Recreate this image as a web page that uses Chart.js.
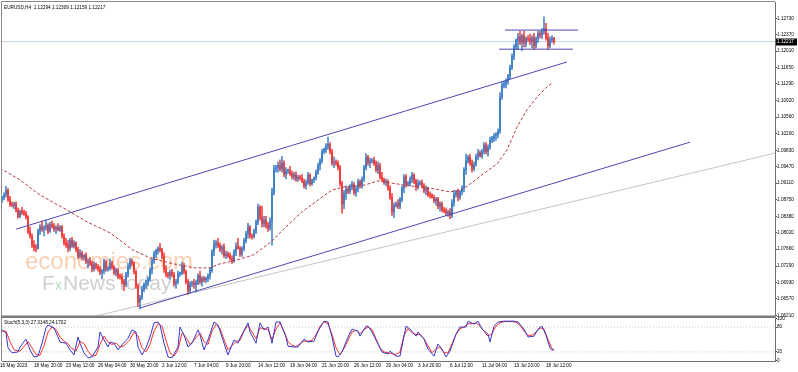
<!DOCTYPE html>
<html><head><meta charset="utf-8">
<script src="https://cdn.jsdelivr.net/npm/chart.js@4.4.0/dist/chart.umd.min.js"></script>
<style>
html,body{margin:0;padding:0;background:#fff;}
#wrap{position:relative;width:798px;height:372px;overflow:hidden;background:#fff;}
#c1{position:absolute;left:0;top:0;}
#c2{position:absolute;left:0;top:308px;}
</style></head><body>
<div id="wrap"><canvas id="c1" width="798" height="318"></canvas><canvas id="c2" width="798" height="64"></canvas></div>
<script>
// ---------- DATA ----------
const title = 'EURUSD,H4  1.12294 1.12309 1.12159 1.12217';
const stochTitle = 'Stoch(5,3,3) 27.3148 24.1702';
const xLabels = ['16 May 2023','18 May 20:00','23 May 12:00','26 May 04:00','30 May 20:00','2 Jun 12:00','7 Jun 04:00','9 Jun 20:00','14 Jun 12:00','19 Jun 04:00','21 Jun 20:00','26 Jun 12:00','29 Jun 04:00','3 Jul 20:00','6 Jul 12:00','11 Jul 04:00','13 Jul 20:00','18 Jul 12:00'];
const xLabelBars = [0,17,33,49,65,81,97,113,129,145,161,177,193,209,225,241,257,273];
const priceTicks = [1.12730,1.12370,1.12010,1.11650,1.11290,1.10920,1.10560,1.10200,1.09830,1.09470,1.09110,1.08750,1.08380,1.08020,1.07660,1.07290,1.06930,1.06570,1.06210];
const stochTicks = [0,20,80,100];
const lastPrice = 1.12217;

const opens = [
1.0874,1.0879,1.0886,1.0895,1.0876,1.0864, 1.0862,1.0866,1.0851,1.0838,1.0849,1.0846,
1.0843,1.0837,1.0804,1.0795,1.0775,1.0770, 1.0768,1.0806,1.0815,1.0810,1.0812,1.0818,
1.0805,1.0820,1.0816,1.0810,1.0814,1.0808, 1.0815,1.0795,1.0780,1.0776,1.0768,1.0786,
1.0772,1.0780,1.0765,1.0750,1.0758,1.0748, 1.0752,1.0738,1.0740,1.0735,1.0722,1.0732,
1.0726,1.0722,1.0715,1.0718,1.0738,1.0722, 1.0724,1.0735,1.0726,1.0714,1.0720,1.0706,
1.0705,1.0696,1.0688,1.0710,1.0728,1.0740, 1.0735,1.0716,1.0685,1.0650,1.0660,1.0678,
1.0689,1.0693,1.0700,1.0720,1.0740,1.0755, 1.0762,1.0768,1.0764,1.0750,1.0722,1.0712,
1.0708,1.0716,1.0710,1.0690,1.0695,1.0712, 1.0713,1.0730,1.0716,1.0695,1.0675,1.0690,
1.0692,1.0688,1.0692,1.0708,1.0695,1.0702, 1.0698,1.0702,1.0708,1.0720,1.0760,1.0776,
1.0780,1.0774,1.0765,1.0770,1.0752,1.0756, 1.0750,1.0745,1.0740,1.0760,1.0772,1.0768,
1.0755,1.0768,1.0785,1.0800,1.0815,1.0795, 1.0793,1.0806,1.0825,1.0858,1.0836,1.0822,
1.0830,1.0818,1.0812,1.0828,1.0890,1.0942, 1.0945,1.0950,1.0942,1.0955,1.0930,1.0938,
1.0940,1.0932,1.0925,1.0930,1.0920,1.0924, 1.0922,1.0915,1.0905,1.0912,1.0928,1.0910,
1.0918,1.0922,1.0935,1.0950,1.0960,1.0980, 1.0985,1.0992,1.0996,1.0980,1.0955,1.0958,
1.0955,1.0945,1.0910,1.0865,1.0888,1.0898, 1.0894,1.0902,1.0908,1.0890,1.0898,1.0915,
1.0905,1.0920,1.0945,1.0968,1.0956,1.0960, 1.0961,1.0955,1.0940,1.0950,1.0925,1.0918,
1.0912,1.0915,1.0900,1.0880,1.0848,1.0862, 1.0866,1.0860,1.0875,1.0900,1.0925,1.0908,
1.0910,1.0920,1.0928,1.0915,1.0902,1.0910, 1.0912,1.0905,1.0895,1.0900,1.0886,1.0884,
1.0880,1.0872,1.0876,1.0860,1.0866,1.0852, 1.0850,1.0845,1.0848,1.0840,1.0868,1.0886,
1.0890,1.0880,1.0892,1.0900,1.0940,1.0960, 1.0968,1.0955,1.0942,1.0952,1.0970,1.0978,
1.0971,1.0980,1.0995,1.0980,1.0990,1.1005, 1.1009,1.1015,1.1018,1.1025,1.1100,1.1125,
1.1129,1.1135,1.1145,1.1165,1.1188,1.1210, 1.1225,1.1232,1.1220,1.1235,1.1218,1.1228,
1.1227,1.1222,1.1230,1.1212,1.1228,1.1240, 1.1236,1.1245,1.1250,1.1230,1.1212,1.1226,
1.12294];
const highs = [
1.0882,1.0890,1.0904,1.0899,1.0882,1.0870, 1.0869,1.0870,1.0856,1.0852,1.0858,1.0852,
1.0849,1.0840,1.0815,1.0800,1.0785,1.0776, 1.0810,1.0820,1.0828,1.0818,1.0830,1.0822,
1.0825,1.0828,1.0822,1.0818,1.0822,1.0818, 1.0818,1.0800,1.0790,1.0785,1.0790,1.0792,
1.0785,1.0782,1.0770,1.0765,1.0762,1.0755, 1.0758,1.0745,1.0748,1.0740,1.0738,1.0736,
1.0732,1.0728,1.0722,1.0745,1.0742,1.0728, 1.0745,1.0740,1.0730,1.0725,1.0724,1.0712,
1.0712,1.0700,1.0715,1.0735,1.0746,1.0744, 1.0738,1.0720,1.0690,1.0665,1.0685,1.0692,
1.0698,1.0705,1.0725,1.0745,1.0762,1.0766, 1.0772,1.0779,1.0768,1.0758,1.0730,1.0715,
1.0720,1.0722,1.0715,1.0700,1.0718,1.0716, 1.0738,1.0735,1.0720,1.0700,1.0695,1.0696,
1.0700,1.0698,1.0712,1.0718,1.0706,1.0706, 1.0705,1.0712,1.0725,1.0765,1.0786,1.0785,
1.0790,1.0780,1.0775,1.0778,1.0762,1.0760, 1.0758,1.0752,1.0765,1.0780,1.0790,1.0772,
1.0772,1.0790,1.0805,1.0823,1.0818,1.0800, 1.0810,1.0830,1.0865,1.0862,1.0860,1.0838,
1.0838,1.0825,1.0835,1.0900,1.0950,1.0950, 1.0958,1.0962,1.0970,1.0960,1.0945,1.0942,
1.0948,1.0938,1.0935,1.0936,1.0928,1.0928, 1.0930,1.0920,1.0918,1.0935,1.0932,1.0920,
1.0925,1.0940,1.0955,1.0965,1.0985,1.0988, 1.0998,1.1012,1.1000,1.0985,1.0968,1.0962,
1.0960,1.0950,1.0915,1.0895,1.0905,1.0902, 1.0908,1.0915,1.0912,1.0905,1.0920,1.0918,
1.0925,1.0950,1.0976,1.0972,1.0966,1.0965, 1.0968,1.0960,1.0958,1.0955,1.0935,1.0922,
1.0920,1.0918,1.0905,1.0888,1.0868,1.0870, 1.0875,1.0880,1.0905,1.0930,1.0930,1.0915,
1.0925,1.0935,1.0932,1.0920,1.0918,1.0916, 1.0918,1.0910,1.0905,1.0902,1.0892,1.0888,
1.0885,1.0880,1.0880,1.0870,1.0870,1.0858, 1.0856,1.0852,1.0855,1.0875,1.0895,1.0895,
1.0898,1.0895,1.0905,1.0945,1.0975,1.0972, 1.0975,1.0962,1.0958,1.0975,1.0985,1.0982,
1.0985,1.1000,1.1000,1.0995,1.1012,1.1014, 1.1020,1.1022,1.1030,1.1110,1.1132,1.1135,
1.1140,1.1150,1.1170,1.1195,1.1215,1.1228, 1.1240,1.1244,1.1238,1.1245,1.1232,1.1235,
1.1238,1.1235,1.1240,1.1232,1.1245,1.1244, 1.1250,1.1276,1.1262,1.1240,1.1232,1.1235,
1.12309];
const lows = [
1.0868,1.0874,1.0880,1.0871,1.0860,1.0859, 1.0855,1.0848,1.0834,1.0835,1.0842,1.0840,
1.0832,1.0800,1.0790,1.0770,1.0762,1.0760, 1.0766,1.0798,1.0805,1.0795,1.0808,1.0800,
1.0803,1.0812,1.0805,1.0800,1.0806,1.0805, 1.0790,1.0775,1.0770,1.0760,1.0762,1.0770,
1.0768,1.0760,1.0745,1.0747,1.0742,1.0742, 1.0735,1.0725,1.0730,1.0716,1.0718,1.0722,
1.0718,1.0710,1.0701,1.0712,1.0718,1.0718, 1.0720,1.0722,1.0710,1.0708,1.0702,1.0700,
1.0690,1.0675,1.0684,1.0705,1.0722,1.0730, 1.0712,1.0680,1.0640,1.0635,1.0655,1.0672,
1.0680,1.0686,1.0696,1.0712,1.0735,1.0748, 1.0755,1.0760,1.0745,1.0715,1.0705,1.0703,
1.0700,1.0705,1.0685,1.0680,1.0690,1.0706, 1.0710,1.0712,1.0690,1.0667,1.0670,1.0684,
1.0680,1.0672,1.0688,1.0690,1.0685,1.0694, 1.0692,1.0695,1.0700,1.0715,1.0752,1.0768,
1.0770,1.0760,1.0755,1.0748,1.0745,1.0748, 1.0742,1.0735,1.0737,1.0752,1.0766,1.0750,
1.0750,1.0762,1.0780,1.0790,1.0790,1.0788, 1.0790,1.0800,1.0820,1.0830,1.0815,1.0815,
1.0812,1.0805,1.0808,1.0775,1.0885,1.0935, 1.0935,1.0938,1.0935,1.0925,1.0920,1.0932,
1.0928,1.0920,1.0918,1.0915,1.0915,1.0918, 1.0912,1.0900,1.0898,1.0908,1.0905,1.0906,
1.0912,1.0918,1.0930,1.0940,1.0955,1.0975, 1.0978,1.0985,1.0975,1.0950,1.0945,1.0950,
1.0940,1.0905,1.0845,1.0855,1.0875,1.0888, 1.0888,1.0896,1.0885,1.0882,1.0892,1.0900,
1.0900,1.0915,1.0940,1.0950,1.0945,1.0955, 1.0950,1.0935,1.0932,1.0920,1.0915,1.0908,
1.0905,1.0895,1.0875,1.0840,1.0835,1.0858, 1.0855,1.0855,1.0870,1.0890,1.0902,1.0905,
1.0905,1.0912,1.0910,1.0895,1.0898,1.0906, 1.0900,1.0890,1.0885,1.0882,1.0878,1.0878,
1.0868,1.0862,1.0855,1.0850,1.0848,1.0846, 1.0840,1.0838,1.0833,1.0835,1.0860,1.0880,
1.0872,1.0875,1.0885,1.0892,1.0930,1.0955, 1.0950,1.0935,1.0938,1.0948,1.0962,1.0968,
1.0965,1.0975,1.0975,1.0970,1.0985,1.1000, 1.1002,1.1005,1.1010,1.1020,1.1095,1.1120,
1.1120,1.1128,1.1140,1.1160,1.1182,1.1205, 1.1205,1.1215,1.1202,1.1210,1.1210,1.1222,
1.1215,1.1208,1.1204,1.1208,1.1220,1.1230, 1.1228,1.1238,1.1225,1.1205,1.1208,1.1220,
1.12159];
const closes = [
1.0879,1.0886,1.0895,1.0876,1.0864,1.0862, 1.0866,1.0851,1.0838,1.0849,1.0846,1.0843,
1.0837,1.0804,1.0795,1.0775,1.0770,1.0768, 1.0806,1.0815,1.0810,1.0812,1.0818,1.0805,
1.0820,1.0816,1.0810,1.0814,1.0808,1.0815, 1.0795,1.0780,1.0776,1.0768,1.0786,1.0772,
1.0780,1.0765,1.0750,1.0758,1.0748,1.0752, 1.0738,1.0740,1.0735,1.0722,1.0732,1.0726,
1.0722,1.0715,1.0718,1.0738,1.0722,1.0724, 1.0735,1.0726,1.0714,1.0720,1.0706,1.0705,
1.0696,1.0688,1.0710,1.0728,1.0740,1.0735, 1.0716,1.0685,1.0650,1.0660,1.0678,1.0689,
1.0693,1.0700,1.0720,1.0740,1.0755,1.0762, 1.0768,1.0764,1.0750,1.0722,1.0712,1.0708,
1.0716,1.0710,1.0690,1.0695,1.0712,1.0713, 1.0730,1.0716,1.0695,1.0675,1.0690,1.0692,
1.0688,1.0692,1.0708,1.0695,1.0702,1.0698, 1.0702,1.0708,1.0720,1.0760,1.0776,1.0780,
1.0774,1.0765,1.0770,1.0752,1.0756,1.0750, 1.0745,1.0740,1.0760,1.0772,1.0768,1.0755,
1.0768,1.0785,1.0800,1.0815,1.0795,1.0793, 1.0806,1.0825,1.0858,1.0836,1.0822,1.0830,
1.0818,1.0812,1.0828,1.0890,1.0942,1.0945, 1.0950,1.0942,1.0955,1.0930,1.0938,1.0940,
1.0932,1.0925,1.0930,1.0920,1.0924,1.0922, 1.0915,1.0905,1.0912,1.0928,1.0910,1.0918,
1.0922,1.0935,1.0950,1.0960,1.0980,1.0985, 1.0992,1.0996,1.0980,1.0955,1.0958,1.0955,
1.0945,1.0910,1.0865,1.0888,1.0898,1.0894, 1.0902,1.0908,1.0890,1.0898,1.0915,1.0905,
1.0920,1.0945,1.0968,1.0956,1.0960,1.0961, 1.0955,1.0940,1.0950,1.0925,1.0918,1.0912,
1.0915,1.0900,1.0880,1.0848,1.0862,1.0866, 1.0860,1.0875,1.0900,1.0925,1.0908,1.0910,
1.0920,1.0928,1.0915,1.0902,1.0910,1.0912, 1.0905,1.0895,1.0900,1.0886,1.0884,1.0880,
1.0872,1.0876,1.0860,1.0866,1.0852,1.0850, 1.0845,1.0848,1.0840,1.0868,1.0886,1.0890,
1.0880,1.0892,1.0900,1.0940,1.0960,1.0968, 1.0955,1.0942,1.0952,1.0970,1.0978,1.0971,
1.0980,1.0995,1.0980,1.0990,1.1005,1.1009, 1.1015,1.1018,1.1025,1.1100,1.1125,1.1129,
1.1135,1.1145,1.1165,1.1188,1.1210,1.1225, 1.1232,1.1220,1.1235,1.1218,1.1228,1.1227,
1.1222,1.1230,1.1212,1.1228,1.1240,1.1236, 1.1245,1.1250,1.1230,1.1212,1.1226,1.1229,
1.12217];

// moving average (read at bar positions)
const maPoints = [[-1,1.0944],[9,1.0918],[19,1.0885],[32.5,1.0852],[42.5,1.0826],[54,1.0802],[65.5,1.0764],[74,1.0747],[85.5,1.0734],[96.5,1.0725],[104,1.0725],[109,1.0734],[115.5,1.0740],[125.5,1.0753],[134,1.0780],[141.5,1.0813],[150,1.0848],[158,1.0874],[165,1.0896],[171.5,1.0903],[181.5,1.0907],[188,1.0916],[195,1.0911],[204,1.0905],[214,1.0900],[224,1.0892],[229,1.0894],[234,1.0909],[240.5,1.0931],[247.5,1.0953],[252.5,1.0984],[257.5,1.1034],[262.5,1.1072],[267.5,1.1100],[272.5,1.1122],[275,1.1131]];

// stochastic %K (blue) and %D (red) read at bar positions
const stochK = [[0,73],[2,66],[3,30],[5,18],[8,20],[9,32],[12,51],[14,25],[16,8],[18,10],[20,41],[22,78],[23,85],[26,78],[28,56],[29,44],[32,41],[34,25],[36,13],[38,56],[39,41],[41,18],[43,6],[45,8],[48,32],[49,68],[51,49],[53,32],[54,44],[56,41],[58,25],[60,37],[63,53],[65,73],[67,68],[68,32],[70,13],[72,30],[74,56],[76,90],[78,92],[79,85],[81,41],[83,8],[85,6],[88,32],[89,80],[91,61],[93,32],[95,41],[98,73],[99,61],[101,25],[103,49],[106,92],[108,85],[111,41],[113,13],[116,49],[118,41],[119,53],[123,90],[124,68],[127,41],[129,90],[131,73],[133,80],[135,41],[137,92],[139,92],[142,56],[143,34],[146,32],[148,32],[151,51],[153,44],[156,46],[158,70],[161,94],[163,92],[165,56],[167,10],[168,8],[170,20],[173,56],[175,75],[178,70],[179,58],[182,82],[183,82],[185,68],[188,39],[190,20],[193,15],[194,22],[197,10],[199,10],[202,82],[204,75],[207,58],[208,68],[211,51],[213,27],[216,10],[218,39],[220,27],[222,8],[224,22],[227,63],[229,80],[232,80],[233,94],[236,87],[238,94],[240,75],[243,63],[244,44],[246,82],[248,92],[251,94],[256,94],[258,92],[261,75],[263,56],[266,58],[268,75],[270,82],[272,60],[274,30],[275,24],[276,27.3148]];
const stochD = [[0,70],[2,70],[4,45],[6,25],[9,22],[11,33],[13,45],[15,30],[17,14],[19,12],[21,35],[23,68],[25,80],[27,74],[29,56],[31,46],[33,40],[35,28],[37,22],[39,45],[41,40],[43,22],[45,10],[47,12],[49,38],[51,58],[53,44],[55,38],[57,42],[59,32],[61,35],[64,50],[66,68],[68,58],[70,30],[72,20],[74,38],[76,70],[78,88],[80,82],[82,48],[84,18],[86,10],[88,25],[90,65],[92,55],[94,38],[96,48],[99,66],[101,45],[103,38],[105,70],[107,86],[109,76],[111,50],[113,25],[115,35],[117,45],[119,48],[121,70],[123,84],[125,68],[127,52],[129,78],[131,76],[133,74],[135,50],[137,75],[139,90],[141,70],[143,45],[145,36],[147,33],[149,40],[151,46],[153,46],[155,48],[157,62],[159,82],[161,92],[163,88],[165,62],[167,30],[169,14],[171,28],[173,48],[175,68],[177,72],[179,64],[181,74],[183,80],[185,74],[187,52],[189,30],[191,20],[193,18],[195,16],[197,14],[199,20],[201,60],[203,76],[205,66],[207,62],[209,62],[211,52],[213,35],[215,18],[217,28],[219,32],[221,18],[223,18],[225,40],[227,62],[229,76],[231,80],[233,88],[235,88],[237,90],[239,82],[241,70],[243,58],[245,64],[247,82],[249,90],[251,93],[255,93],[257,92],[259,84],[261,70],[263,60],[265,60],[267,68],[269,78],[271,75],[273,50],[275,28],[276,24.1702]];

// analyst drawings (bar, price)
const upperChannel = [[7,1.0810],[282.5,1.1177]];
const lowerChannel = [[69,1.0637],[344,1.1001]];
const greyTrend = [[46.5,1.0619],[386.5,1.0977]];
const boxTop = [[251.5,1.1247],[288,1.1247]];
const boxBottom = [[248.5,1.1205],[285.5,1.1205]];

// ---------- RENDER ----------
Chart.defaults.font.family = '"Liberation Sans", Arial, sans-serif';
Chart.defaults.animation = false;
const FONT = 4.7;
const UP = '#4282c8', DOWN = '#f53c3c';
const idx = opens.map((_, i) => i);
const cc = idx.map(i => closes[i] >= opens[i] ? UP : DOWN);
const pts = a => a.map(p => ({x: p[0], y: p[1]}));
const XMAX = 386.5;

function lineDs(data, color, order, extra) {
  return Object.assign({type: 'line', data: pts(data), borderColor: color, borderWidth: 1, pointRadius: 0, tension: 0, order: order, clip: 0}, extra || {});
}

const framePlugin = {
  id: 'frame',
  beforeDatasetsDraw(chart) {
    const ctx = chart.ctx;
    ctx.save();
    ctx.textBaseline = 'alphabetic';
    ctx.font = '24px "Liberation Sans", Arial';
    ctx.fillStyle = 'rgba(247,160,100,0.5)';
    ctx.fillText('economies.com', 25, 269);
    ctx.font = '21px "Liberation Sans", Arial';
    ctx.fillStyle = 'rgba(160,160,160,0.5)';
    ctx.fillText('F', 42, 290);
    ctx.fillStyle = 'rgba(120,190,120,0.55)';
    ctx.font = '14px "Liberation Sans", Arial';
    ctx.fillText('x', 55, 290);
    ctx.font = '21px "Liberation Sans", Arial';
    ctx.fillStyle = 'rgba(160,160,160,0.5)';
    ctx.fillText('NewsToday', 63, 290);
    ctx.restore();
  },
  afterDraw(chart) {
    const ctx = chart.ctx, a = chart.chartArea;
    ctx.save();
    ctx.strokeStyle = '#8a8a8a'; ctx.lineWidth = 1;
    ctx.beginPath(); ctx.moveTo(1, 1.5); ctx.lineTo(a.right, 1.5); ctx.moveTo(1.5, 1); ctx.lineTo(1.5, 318); ctx.stroke();
    ctx.fillStyle = '#7a7a7a';
    ctx.fillRect(1, 315.5, a.right - 0.5, 2.5);
    ctx.fillStyle = '#000';
    ctx.font = FONT + 'px "Liberation Sans", Arial';
    ctx.textBaseline = 'middle';
    ctx.fillText(title, 4, 8);
    const y = chart.scales.y.getPixelForValue(lastPrice);
    ctx.fillRect(776, Math.round(y) - 3.5, 21, 7);
    ctx.fillStyle = '#fff';
    ctx.fillText(lastPrice.toFixed(5), 777, y);
    ctx.restore();
  }
};

new Chart(document.getElementById('c1'), {
  type: 'bar',
  data: {datasets: [
    lineDs([[0, lastPrice], [XMAX, lastPrice]], '#bfd3de', 9),
    lineDs(greyTrend, '#c4c4c4', 8),
    {type: 'bar', data: idx.map(i => ({x: i, y: [lows[i], highs[i]]})), backgroundColor: cc, barThickness: 0.9, grouped: false, order: 6, clip: 0},
    {type: 'bar', data: idx.map(i => ({x: i, y: [opens[i], closes[i]]})), backgroundColor: cc, barThickness: 1.25, grouped: false, minBarLength: 1, order: 5, clip: 0},
    lineDs(maPoints, '#b23a3a', 4, {borderDash: [3, 2]}),
    lineDs(upperChannel, '#4a48b4', 3),
    lineDs(lowerChannel, '#4a48b4', 3),
    lineDs(boxTop, '#4a48b4', 3),
    lineDs(boxBottom, '#4a48b4', 3)
  ]},
  options: {
    responsive: false, animation: false,
    layout: {padding: {left: 2, top: 2, right: 0, bottom: 2}},
    plugins: {legend: {display: false}, tooltip: {enabled: false}},
    scales: {
      x: {type: 'linear', min: 0, max: XMAX, display: false, offset: false, grid: {offset: false}},
      y: {
        position: 'right', min: 1.061938, max: 1.130861, beginAtZero: false,
        afterBuildTicks: s => { s.ticks = priceTicks.map(v => ({value: v})); },
        afterFit: s => { s.width = 23; s.paddingTop = 0; s.paddingBottom = 0; },
        ticks: {callback: v => v.toFixed(5), font: {size: FONT}, color: '#000', padding: 0, autoSkip: false},
        grid: {display: true, drawOnChartArea: false, drawTicks: true, tickLength: 2, color: '#444'},
        border: {display: true, color: '#6e6e6e'}
      }
    }
  },
  plugins: [framePlugin]
});

const stochPlugin = {
  id: 'stochFrame',
  afterDraw(chart) {
    const ctx = chart.ctx, a = chart.chartArea;
    ctx.save();
    ctx.strokeStyle = '#8a8a8a'; ctx.lineWidth = 1;
    ctx.beginPath(); ctx.moveTo(1.5, a.top); ctx.lineTo(1.5, a.bottom); ctx.stroke();
    ctx.fillStyle = '#000';
    ctx.font = FONT + 'px "Liberation Sans", Arial';
    ctx.textBaseline = 'middle';
    ctx.fillText(stochTitle, 4, a.top + 4.5);
    ctx.restore();
  }
};

new Chart(document.getElementById('c2'), {
  type: 'line',
  data: {datasets: [
    lineDs([[0, 80], [XMAX, 80]], '#c8c8c8', 5, {borderDash: [1, 2]}),
    lineDs([[0, 20], [XMAX, 20]], '#c8c8c8', 5, {borderDash: [1, 2]}),
    lineDs(stochD, '#ff3030', 2),
    lineDs(stochK, '#3838c8', 1)
  ]},
  options: {
    responsive: false, animation: false,
    layout: {padding: {left: 2, top: 10, right: 0, bottom: 0}},
    plugins: {legend: {display: false}, tooltip: {enabled: false}},
    scales: {
      x: {
        type: 'linear', min: 0, max: XMAX, position: 'bottom', offset: false,
        afterBuildTicks: s => { s.ticks = xLabelBars.map(v => ({value: v})); },
        afterFit: s => { s.height = 11; s.paddingLeft = 0; s.paddingRight = 0; },
        ticks: {callback: (v, i) => xLabels[i], font: {size: FONT}, color: '#000', align: 'start', labelOffset: -2, padding: 2, autoSkip: false, maxRotation: 0, minRotation: 0},
        grid: {display: false, drawTicks: false},
        border: {display: true, color: '#6e6e6e'}
      },
      y: {
        position: 'right', min: -1.68, max: 101.68,
        afterBuildTicks: s => { s.ticks = stochTicks.map(v => ({value: v})); },
        afterFit: s => { s.width = 23; s.paddingTop = 0; s.paddingBottom = 0; },
        ticks: {callback: v => String(v), font: {size: FONT}, color: '#000', padding: 0, autoSkip: false},
        grid: {display: true, drawOnChartArea: false, drawTicks: true, tickLength: 2, color: '#444'},
        border: {display: true, color: '#6e6e6e'}
      }
    }
  },
  plugins: [stochPlugin]
});
</script>
</body></html>
